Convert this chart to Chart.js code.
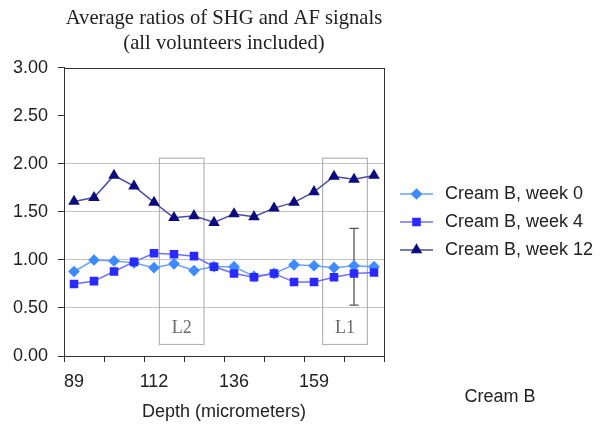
<!DOCTYPE html>
<html>
<head>
<meta charset="utf-8">
<script src="https://cdn.jsdelivr.net/npm/chart.js@4.4.1/dist/chart.umd.min.js"></script>
<style>
  html, body { margin: 0; padding: 0; background: #fff; }
  #wrap { width: 603px; height: 424px; }
</style>
</head>
<body>
<div id="wrap"><canvas id="chart" width="603" height="424"></canvas></div>
<script>
// depth of each measurement (micrometers)
const depths = [89, 95, 101, 106, 112, 118, 124, 130, 136, 141, 147, 153, 159, 165, 171, 176]
const xTickLabels = [89, 112, 136, 159]
const yTicks = [0, 0.5, 1, 1.5, 2, 2.5, 3]

const seriesNames = ['Cream B, week 0', 'Cream B, week 4', 'Cream B, week 12']
const week0 = [0.88, 1.00, 0.99, 0.97, 0.92, 0.96, 0.89, 0.93, 0.93, 0.83, 0.86, 0.95, 0.94, 0.92, 0.94, 0.93]
const week4 = [0.75, 0.78, 0.88, 0.98, 1.07, 1.06, 1.04, 0.93, 0.86, 0.82, 0.86, 0.77, 0.77, 0.82, 0.86, 0.87]
const week12 = [1.61, 1.65, 1.88, 1.77, 1.60, 1.44, 1.46, 1.39, 1.48, 1.45, 1.54, 1.60, 1.71, 1.87, 1.84, 1.88]

// marked regions (in category units) and the single error bar
const regionNames = ['L2', 'L1']
const regionFrom = [4.27, 12.43]
const regionTo = [6.5, 14.67]
const regionLow = 0.12
const regionHigh = 2.06
const errIndex = 14
const errLow = 0.53
const errHigh = 1.33

Chart.defaults.font.family = "'Liberation Sans', Arial, sans-serif"
Chart.defaults.font.size = 18
Chart.defaults.color = '#222'

const extras = {
  id: 'extras',
  beforeDatasetsDraw(chart) {
    const { ctx, scales: { x, y } } = chart
    ctx.save()
    ctx.strokeStyle = '#b4b4b4'
    ctx.lineWidth = 1.2
    ctx.fillStyle = '#6a6a6a'
    ctx.font = "18px 'Liberation Serif', 'Times New Roman', serif"
    ctx.textAlign = 'center'
    ctx.textBaseline = 'middle'
    regionNames.forEach((name, i) => {
      const left = x.getPixelForValue(regionFrom[i])
      const right = x.getPixelForValue(regionTo[i])
      const top = y.getPixelForValue(regionHigh)
      const bottom = y.getPixelForValue(regionLow)
      ctx.strokeRect(left, top, right - left, bottom - top)
      ctx.fillText(name, (left + right) / 2, bottom - 16)
    })

    // error bar
    const ex = x.getPixelForValue(errIndex)
    const y1 = y.getPixelForValue(errHigh)
    const y2 = y.getPixelForValue(errLow)
    ctx.strokeStyle = '#555'
    ctx.lineWidth = 1.3
    ctx.beginPath()
    ctx.moveTo(ex, y1); ctx.lineTo(ex, y2)
    ctx.moveTo(ex - 4.5, y1); ctx.lineTo(ex + 4.5, y1)
    ctx.moveTo(ex - 4.5, y2); ctx.lineTo(ex + 4.5, y2)
    ctx.stroke()
    ctx.restore()
  },
  afterDraw(chart) {
    const { ctx, chartArea: a } = chart
    ctx.save()
    // plot frame
    ctx.strokeStyle = '#333'
    ctx.lineWidth = 1
    ctx.strokeRect(Math.round(a.left) + 0.5, Math.round(a.top) + 0.5,
      Math.round(a.right - a.left), Math.round(a.bottom - a.top))

    // legend
    const lx = a.right + 16
    let ly = 194
    ctx.font = "18px 'Liberation Sans', Arial, sans-serif"
    ctx.textBaseline = 'middle'
    ctx.textAlign = 'left'
    chart.data.datasets.forEach(ds => {
      ctx.strokeStyle = ds.borderColor
      ctx.lineWidth = ds.borderWidth
      ctx.beginPath()
      ctx.moveTo(lx, ly); ctx.lineTo(lx + 33, ly)
      ctx.stroke()
      ctx.fillStyle = ds.pointBackgroundColor
      ctx.strokeStyle = ds.pointBorderColor
      Chart.helpers.drawPoint(ctx, { pointStyle: ds.pointStyle, radius: ds.pointRadius, rotation: 0, borderWidth: 1 }, lx + 16.5, ly)
      ctx.fillStyle = '#222'
      ctx.fillText(ds.label, lx + 45, ly)
      ly += 28
    })

    ctx.textAlign = 'center'
    ctx.fillText('Cream B', 500, 397)
    ctx.restore()
  }
}

new Chart(document.getElementById('chart').getContext('2d'), {
  type: 'line',
  data: {
    labels: depths,
    datasets: [
      {
        label: seriesNames[0], data: week0, order: 3,
        borderColor: '#6aa2ff', borderWidth: 1.5,
        pointStyle: 'rectRot', pointRadius: 4.8,
        pointBackgroundColor: '#3d8bff', pointBorderColor: '#3d8bff'
      },
      {
        label: seriesNames[1], data: week4, order: 2,
        borderColor: '#6f6fff', borderWidth: 1.5,
        pointStyle: 'rect', pointRadius: 5,
        pointBackgroundColor: '#2a2aff', pointBorderColor: '#2a2aff'
      },
      {
        label: seriesNames[2], data: week12, order: 1,
        borderColor: '#4a4aa6', borderWidth: 1.5,
        pointStyle: 'triangle', pointRadius: 5.2,
        pointBackgroundColor: '#0c0c80', pointBorderColor: '#0c0c80'
      }
    ]
  },
  options: {
    responsive: false,
    animation: false,
    layout: { padding: { left: 0, right: 219, top: 0, bottom: 0 } },
    plugins: {
      legend: { display: false },
      tooltip: { enabled: false },
      title: {
        display: true,
        fullSize: false,
        text: ['Average ratios of SHG and AF signals', '(all volunteers included)'],
        font: { family: "'Liberation Serif', 'Times New Roman', serif", size: 20.6, weight: 'normal', lineHeight: 1.22 },
        color: '#222',
        padding: { top: 6, bottom: 11.7 }
      }
    },
    scales: {
      x: {
        offset: true,
        afterFit: s => { s.height = 68 },
        border: { color: '#333' },
        grid: {
          offset: true,
          drawOnChartArea: false,
          tickLength: 6,
          tickColor: c => (c.index === undefined || c.index % 2 === 0) ? '#333' : 'rgba(0,0,0,0)'
        },
        ticks: {
          autoSkip: false,
          maxRotation: 0,
          padding: 9,
          callback: (v, i) => xTickLabels.includes(depths[i]) ? depths[i] : ''
        },
        title: {
          display: true,
          text: 'Depth (micrometers)',
          font: { size: 18 },
          padding: { top: 0, bottom: 1.5 }
        }
      },
      y: {
        min: 0,
        max: 3,
        afterFit: s => { s.width = 64 },
        afterBuildTicks: s => { s.ticks = yTicks.map(v => ({ value: v })) },
        border: { color: '#333' },
        grid: {
          color: c => (c.tick && (c.tick.value === 2.5 || c.tick.value === 0 || c.tick.value === 3)) ? 'rgba(0,0,0,0)' : '#c4c4c4',
          tickColor: '#333',
          tickLength: 6
        },
        ticks: {
          padding: 10,
          callback: v => v.toFixed(2)
        }
      }
    }
  },
  plugins: [extras]
})
</script>
</body>
</html>
